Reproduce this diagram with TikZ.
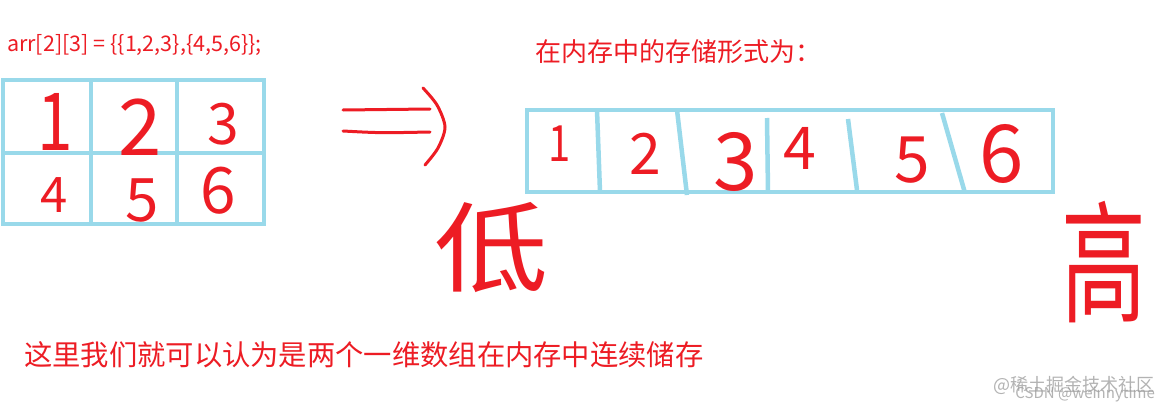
\documentclass[tikz,border=0pt]{standalone}
\usepackage{fontspec}
\setmainfont{Noto Sans CJK SC}
\definecolor{pred}{HTML}{ED1C24}
\definecolor{pblue}{HTML}{99D9EA}
\definecolor{wmgray}{HTML}{A0A0A0}
\newcommand{\fsz}[1]{\fontsize{#1}{#1}\selectfont}
\begin{document}
\begin{tikzpicture}[x=1pt,y=-1pt,
  cellline/.style={draw=pblue,line width=4.5pt},
  hand/.style={pred,inner sep=0pt,anchor=center},
  redtext/.style={text=pred,inner sep=0pt,anchor=west},
  pen/.style={draw=pred,line width=3pt,line cap=round,line join=round},
  wmark/.style={text=wmgray,inner sep=0pt,opacity=0.8}]
\useasboundingbox (0,0) rectangle (1167,412);
\fill[white] (0,0) rectangle (1167,412);
% texts
\node[redtext] (code) at (7,45) {\fsz{21.5}arr[2][3] = \{\{1,2,3\},\{4,5,6\}\};};
\node[redtext] (title) at (535,52) {\fsz{26}在内存中的存储形式为：};
\node[redtext] (note) at (24,355) {\fsz{28.3}这里我们就可以认为是两个一维数组在内存中连续储存};
% grid
\draw[cellline] (3,80) rectangle (264,224);
\draw[cellline] (91,80) -- (91,226);
\draw[cellline] (177,80) -- (177,226);
\draw[cellline] (3,153) -- (264,153);
\node[hand] (g1) at (55,122) {\fsz{80}\scalebox{0.8}[1]{1}};
\node[hand] (g2) at (140,127) {\fsz{78}2};
\node[hand] (g3) at (223,124) {\fsz{57}3};
\node[hand] (g4) at (54,195) {\fsz{49}4};
\node[hand] (g5) at (142,200) {\fsz{60}5};
\node[hand] (g6) at (218,191) {\fsz{64}6};
% arrow
\draw[pen] (343,110) -- (430,109);
\draw[pen] (343,131) .. controls (380,133) .. (430,132);
\draw[pen] plot[smooth] coordinates {(423,88) (437,105) (445,127) (438,148) (425,165)};
% strip
\draw[cellline] (527,110) rectangle (1053,192);
\draw[cellline] (597,110) -- (600,192);
\draw[cellline] (677,110) -- (687,195);
\draw[cellline] (767,118) -- (768,192);
\draw[cellline] (848,119) -- (857,190);
\draw[cellline] (942,113) -- (965,193);
\node[hand] (s1) at (560,144) {\fsz{50}\scalebox{0.8}[1]{1}};
\node[hand] (s2) at (645,154) {\fsz{57}2};
\node[hand] (s3) at (736,162) {\fsz{80}3};
\node[hand] (s4) at (800,148) {\fsz{59}4};
\node[hand] (s5) at (912,160) {\fsz{64}5};
\node[hand] (s6) at (1002,154) {\fsz{80}6};
% low / high
\node[hand] (low) at (491,248) {\fsz{100}\scalebox{1.14}[0.98]{低}};
\node[hand] (high) at (1104,262) {\fsz{100}\scalebox{0.85}[1.32]{高}};
% watermark
\node[wmark,anchor=east] (wm1) at (1155,385) {\fsz{18}@稀土掘金技术社区};
\node[wmark,anchor=east] (wm2) at (1155,394) {\fsz{15}CSDN @weinnytime};
\end{tikzpicture}
\end{document}
